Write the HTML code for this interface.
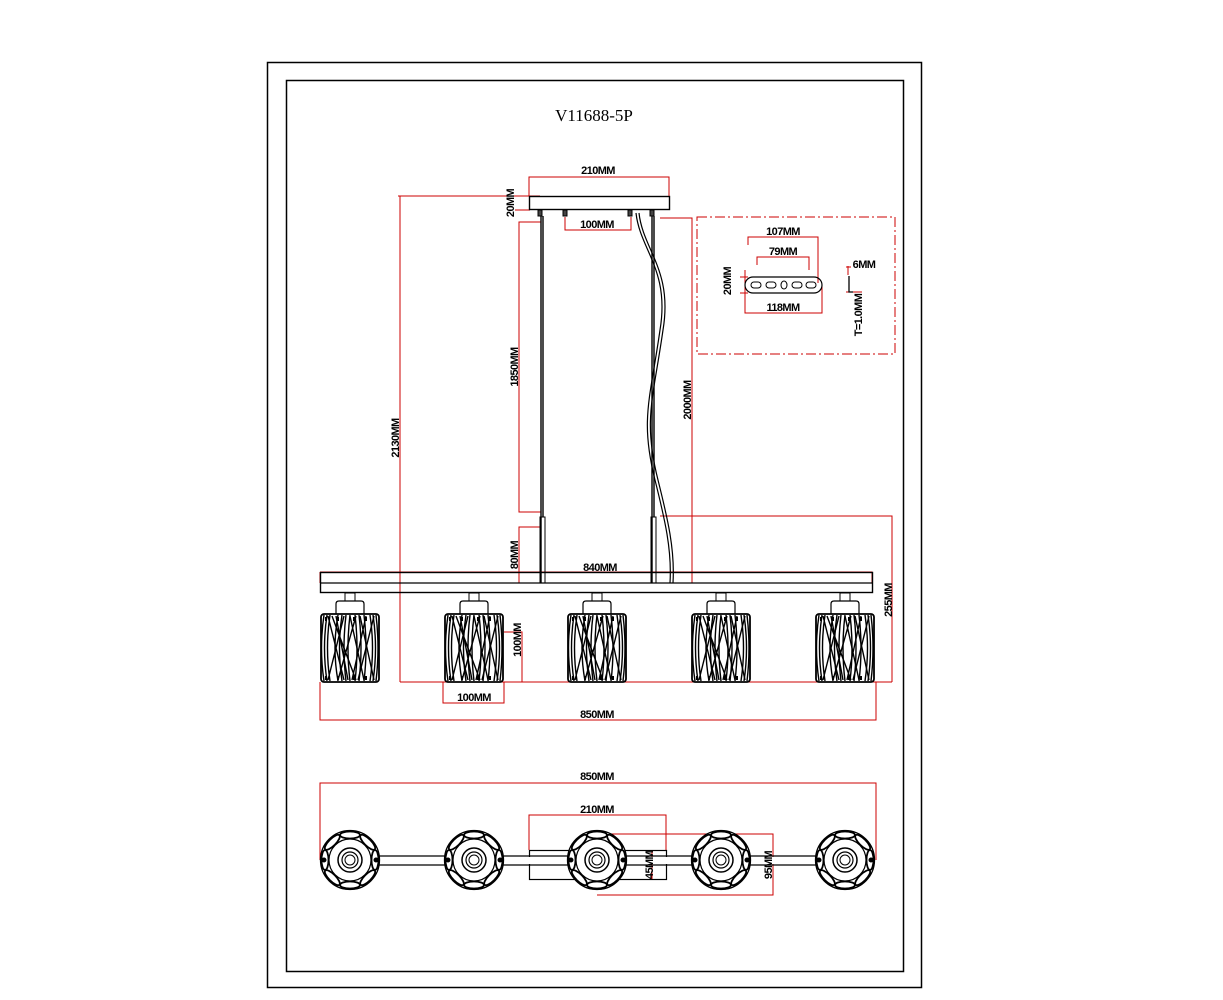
<!DOCTYPE html>
<html><head><meta charset="utf-8"><style>
html,body{margin:0;padding:0;background:#fff}
svg{display:block}
text{font-family:"Liberation Sans",sans-serif;font-weight:bold;font-size:11px;fill:#000;letter-spacing:-0.6px}
</style></head><body>
<svg width="1223" height="1000" viewBox="0 0 1223 1000" xmlns="http://www.w3.org/2000/svg">
<defs>
<g id="shade" fill="none" stroke="#000">
 <rect x="-5" y="593" width="10" height="8" stroke-width="1"/>
 <path d="M-14 614 V604 Q-14 601 -11 601 H11 Q14 601 14 604 V614" stroke-width="1.2"/>
 <rect x="-29" y="614" width="58" height="68" rx="3" stroke-width="1.8"/>
 <g stroke-width="1.4">
  <path d="M-26 615 Q-31 648 -26 681 M-23 615 Q-28 648 -23 681 M-20 615 Q-25 648 -20 681 M-12 615 Q-18 648 -12 681 M-8 615 Q-13 648 -8 681 M-4 615 Q-8 648 -4 681 M0 615 Q-4 648 0 681 M5 615 Q9 648 5 681 M9 615 Q13 648 9 681 M14 615 Q18 648 14 681 M20 615 Q25 648 20 681 M23 615 Q28 648 23 681 M26 615 Q30 648 26 681"/>
  <path d="M-22 616 L-6 680 M-6 616 L-22 680 M-18 616 L6 680 M6 616 L-12 680 M10 616 L24 680 M24 616 L8 680 M0 616 L14 680 M-14 616 L-2 680 M16 616 L2 680"/>
 </g>
 <path d="M-24 617 v4 M-12 617 v4 M4 617 v4 M16 617 v4 M-24 676 v4 M-12 676 v4 M4 676 v4 M16 676 v4" stroke-width="2"/>
</g>
<g id="top" fill="none" stroke="#000">
 <circle cx="0" cy="0" r="29.5" fill="#fff" stroke-width="1.3"/>
 <g stroke-width="1.8">
  <ellipse cx="0" cy="-25" rx="10" ry="3.5"/>
  <ellipse cx="0" cy="-25" rx="10" ry="3.5" transform="rotate(45)"/>
  <ellipse cx="0" cy="-25" rx="10" ry="3.5" transform="rotate(90)"/>
  <ellipse cx="0" cy="-25" rx="10" ry="3.5" transform="rotate(135)"/>
  <ellipse cx="0" cy="-25" rx="10" ry="3.5" transform="rotate(180)"/>
  <ellipse cx="0" cy="-25" rx="10" ry="3.5" transform="rotate(225)"/>
  <ellipse cx="0" cy="-25" rx="10" ry="3.5" transform="rotate(270)"/>
  <ellipse cx="0" cy="-25" rx="10" ry="3.5" transform="rotate(315)"/>
 </g>
 <circle cx="0" cy="0" r="21" fill="#fff" stroke-width="1.2"/>
 <circle cx="0" cy="0" r="12" stroke-width="1.5"/>
 <circle cx="0" cy="0" r="8" stroke-width="1.2"/>
 <circle cx="0" cy="0" r="5" stroke-width="1"/>
 <circle cx="-26" cy="0" r="2" fill="#000"/><circle cx="26" cy="0" r="2" fill="#000"/>
</g>
</defs>
<rect x="267.5" y="62.5" width="654" height="925" fill="none" stroke="#000" stroke-width="1.5"/>
<rect x="286.5" y="80.5" width="617" height="891" fill="none" stroke="#000" stroke-width="1.5"/>
<text x="594" y="121" text-anchor="middle" style="font-size:17px;font-weight:normal;font-family:'Liberation Serif',serif;letter-spacing:0">V11688-5P</text>

<g fill="none" stroke="#c00" stroke-width="1">
 <path d="M529 196 V177 H669 V196"/>
 <path d="M398 196 H540"/><path d="M515 210 H530"/>
 <path d="M565 217 V230 H631 V217"/>
 <path d="M400 196 V682"/>
 <path d="M541 222 H519 V512 H541"/>
 <path d="M541 527 H519 V583"/>
 <path d="M660 218 H692 V583 H672"/>
 <path d="M660 516 H892 V682"/>
 <path d="M320 572 H872 V583 M320 572 V583"/>
 <path d="M400 682 H892"/>
 <path d="M504 632 H522 V682"/>
 <path d="M443 682 V703 H504 V682"/>
 <path d="M320 682 V720 H876 V682"/>
 <path d="M748 245 V237 H818 V283"/>
 <path d="M757 265 V257 H809 V270"/>
 <path d="M745 285 V313 H822 V285"/>
 <path d="M740 277 H748 M740 293 H748 M745 270 V300"/>
 <path d="M848 275 V266 M851 267 H846"/>
 <path d="M846 292 H862"/>
</g>
<path d="M697 217 H895 V354 H697 Z" fill="none" stroke="#c00" stroke-width="1" stroke-dasharray="10,3,2,3"/>
<rect x="745" y="277" width="77" height="16" rx="8" fill="none" stroke="#000" stroke-width="1.2"/>
<g fill="none" stroke="#000" stroke-width="1">
 <rect x="751" y="282" width="10" height="6" rx="3"/><rect x="766" y="282" width="10" height="6" rx="3"/>
 <ellipse cx="784" cy="285" rx="3" ry="4"/>
 <rect x="792" y="282" width="10" height="6" rx="3"/><rect x="806" y="282" width="10" height="6" rx="3"/>
 <path d="M849 276 V292 H853" stroke-width="1.3"/>
</g>
<rect x="529.5" y="196.5" width="140" height="13" fill="none" stroke="#000" stroke-width="1.4"/>
<g fill="#444" stroke="#000">
 <rect x="538" y="210" width="4" height="6"/><rect x="563" y="210" width="4" height="6"/>
 <rect x="628" y="210" width="4" height="6"/><rect x="650" y="210" width="4" height="6"/>
</g>
<g fill="none" stroke="#000">
 <path d="M541 216 V583 M543 216 V517" stroke-width="1.4"/>
 <path d="M652 216 V583 M654 216 V517" stroke-width="1.4"/>
 <rect x="540" y="517" width="5" height="66" stroke-width="1"/>
 <rect x="651" y="517" width="5" height="66" stroke-width="1"/>
 <path d="M636 213 C640 250 670 270 660 330 C650 400 640 420 655 480 C665 520 672 550 670 583" stroke-width="1.2"/>
 <path d="M639 213 C643 250 673 270 663 330 C653 400 643 420 658 480 C668 520 675 550 673 583" stroke-width="1.2"/>
</g>
<rect x="320.5" y="572.5" width="552" height="20" fill="none" stroke="#000" stroke-width="1.4"/>
<path d="M320 583 H872" stroke="#000" stroke-width="1.2"/>
<use href="#shade" x="350"/><use href="#shade" x="474"/><use href="#shade" x="597"/><use href="#shade" x="721"/><use href="#shade" x="845"/>

<text x="598" y="174" text-anchor="middle">210MM</text>
<text x="597" y="228" text-anchor="middle">100MM</text>
<text x="600" y="571" text-anchor="middle">840MM</text>
<text x="474" y="701" text-anchor="middle">100MM</text>
<text x="597" y="718" text-anchor="middle">850MM</text>
<text x="783" y="235" text-anchor="middle">107MM</text>
<text x="783" y="255" text-anchor="middle">79MM</text>
<text x="783" y="311" text-anchor="middle">118MM</text>
<text x="864" y="268" text-anchor="middle">6MM</text>
<g>
 <text transform="translate(514,203) rotate(-90)" text-anchor="middle">20MM</text>
 <text transform="translate(518,367) rotate(-90)" text-anchor="middle">1850MM</text>
 <text transform="translate(691,400) rotate(-90)" text-anchor="middle">2000MM</text>
 <text transform="translate(399,438) rotate(-90)" text-anchor="middle">2130MM</text>
 <text transform="translate(518,555) rotate(-90)" text-anchor="middle">80MM</text>
 <text transform="translate(521,640) rotate(-90)" text-anchor="middle">100MM</text>
 <text transform="translate(892,600) rotate(-90)" text-anchor="middle">255MM</text>
 <text transform="translate(731,281) rotate(-90)" text-anchor="middle">20MM</text>
 <text transform="translate(862,315) rotate(-90)" text-anchor="middle">T=1.0MM</text>
</g>

<g fill="none" stroke="#c00" stroke-width="1">
 <path d="M320 860 V783 H876 V860"/>
 <path d="M529 850 V815 H666 V850"/>
 <path d="M652 850 V879"/>
 <path d="M597 834 H773 V895 H597"/>
</g>
<rect x="529.5" y="850.5" width="137" height="29" fill="none" stroke="#000" stroke-width="1.2"/>
<path d="M350 856 H845 M350 865 H845" stroke="#000" stroke-width="1.3"/>
<rect x="350" y="857" width="495" height="7" fill="#fff"/>
<use href="#top" x="350" y="860"/><use href="#top" x="474" y="860"/><use href="#top" x="597" y="860"/><use href="#top" x="721" y="860"/><use href="#top" x="845" y="860"/>
<text x="597" y="780" text-anchor="middle">850MM</text>
<text x="597" y="813" text-anchor="middle">210MM</text>
<text transform="translate(653,865) rotate(-90)" text-anchor="middle">45MM</text>
<text transform="translate(772,865) rotate(-90)" text-anchor="middle">95MM</text>
</svg>
</body></html>
